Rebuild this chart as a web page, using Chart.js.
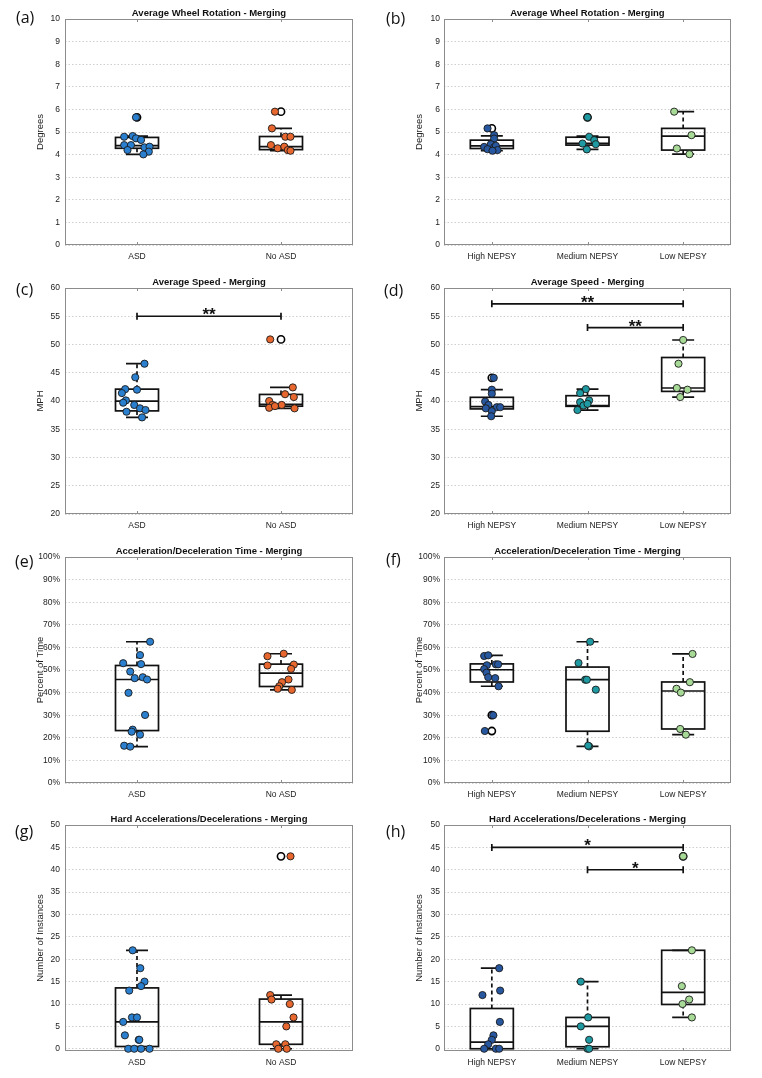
<!DOCTYPE html>
<html><head><meta charset="utf-8">
<script src="https://cdn.jsdelivr.net/npm/chart.js@4.4.1/dist/chart.umd.min.js"></script>
<style>
html,body{margin:0;padding:0;background:#fff;}
body{width:762px;height:1078px;position:relative;overflow:hidden;}
.p{position:absolute;width:381px;height:270px;}
canvas{display:block;}
</style></head><body>
<div class="p" id="wa"><canvas id="ca" width="381" height="270"></canvas></div>
<div class="p" id="wb"><canvas id="cb" width="381" height="270"></canvas></div>
<div class="p" id="wc"><canvas id="cc" width="381" height="270"></canvas></div>
<div class="p" id="wd"><canvas id="cd" width="381" height="270"></canvas></div>
<div class="p" id="we"><canvas id="ce" width="381" height="270"></canvas></div>
<div class="p" id="wf"><canvas id="cf" width="381" height="270"></canvas></div>
<div class="p" id="wg"><canvas id="cg" width="381" height="270"></canvas></div>
<div class="p" id="wh"><canvas id="ch" width="381" height="270"></canvas></div>
<script>
// ---------------- DATA ----------------
const groupsASD = ['ASD', 'No ASD'];
const groupsNEPSY = ['High NEPSY', 'Medium NEPSY', 'Low NEPSY'];
const colorsASD = ['#2a7fcf', '#e8672e'];
const colorsNEPSY = ['#27579f', '#1f9aa2', '#a7da96'];

const ticksWheel = [0, 1, 2, 3, 4, 5, 6, 7, 8, 9, 10];
const ticksSpeed = [20, 25, 30, 35, 40, 45, 50, 55, 60];
const ticksTime = [0, 10, 20, 30, 40, 50, 60, 70, 80, 90, 100];
const ticksHard = [0, 5, 10, 15, 20, 25, 30, 35, 40, 45, 50];

// box stats: [lower whisker, Q1, median, Q3, upper whisker]
// (a) Average wheel rotation by ASD
const aValues = [[4.79, 4.82, 4.72, 4.65, 4.42, 4.42, 4.20, 5.65, 4.32, 4.35, 4.13, 4.01],
                 [5.90, 5.16, 4.79, 4.79, 4.42, 4.28, 4.35, 4.20, 4.17]];
const aJitter = [[-0.089, -0.030, -0.007, 0.028, -0.089, -0.042, -0.066, -0.007, 0.052, 0.087, 0.082, 0.044],
                 [-0.042, -0.063, 0.030, 0.066, -0.070, -0.023, 0.023, 0.047, 0.066]];
const aBox = [[4.01, 4.28, 4.40, 4.76, 4.82], [4.17, 4.22, 4.35, 4.80, 5.16]];
const aOutliers = [[5.65], [5.90]];
const aSig = [];

// (b) Average wheel rotation by NEPSY
const bValues = [[5.16, 4.86, 4.71, 4.46, 4.34, 4.32, 4.39, 4.20, 4.24, 4.17],
                 [5.65, 4.79, 4.64, 4.49, 4.46, 4.23],
                 [5.90, 4.86, 4.27, 4.02]];
const bJitter = [[-0.045, 0.024, 0.024, -0.010, -0.080, 0.024, 0.042, 0.059, -0.045, 0.007],
                 [0.000, 0.017, 0.070, -0.052, 0.087, -0.007],
                 [-0.094, 0.087, -0.066, 0.066]];
const bBox = [[4.17, 4.27, 4.39, 4.64, 4.83], [4.23, 4.42, 4.50, 4.77, 4.82], [4.02, 4.20, 4.82, 5.16, 5.90]];
const bOutliers = [[5.16], [5.65], []];
const bSig = [];

// (c) Average speed by ASD
const cValues = [[46.6, 44.2, 42.1, 42.0, 41.4, 40.1, 39.7, 39.3, 38.7, 38.4, 38.1, 37.1],
                 [50.9, 42.4, 41.2, 40.7, 40.0, 39.3, 39.3, 38.8, 38.7, 39.1]];
const cJitter = [[0.052, -0.012, -0.082, 0.000, -0.105, -0.077, -0.096, -0.019, 0.021, 0.059, -0.073, 0.035],
                 [-0.075, 0.082, 0.028, 0.089, -0.082, -0.059, 0.005, -0.082, 0.094, -0.042]];
const cBox = [[37.1, 38.25, 39.97, 42.1, 46.6], [38.7, 39.08, 39.4, 41.16, 42.4]];
const cOutliers = [[], [50.9]];
const cSig = [[1, 2, 55, '**']];

// (d) Average speed by NEPSY
const dValues = [[44.1, 42.0, 41.3, 39.9, 39.3, 38.9, 38.9, 38.7, 38.2, 37.3],
                 [42.1, 41.4, 40.1, 39.8, 39.2, 38.4, 39.5],
                 [50.8, 46.6, 42.3, 42.0, 40.7]];
const dJitter = [[0.020, 0.000, 0.000, -0.070, -0.035, 0.052, 0.087, -0.063, 0.000, -0.007],
                 [-0.017, -0.077, 0.017, -0.077, -0.042, -0.105, 0.000],
                 [0.000, -0.049, -0.066, 0.045, -0.031]];
const dBox = [[37.3, 38.6, 39.0, 40.65, 42.0], [38.4, 39.06, 39.2, 40.94, 42.1], [40.7, 41.7, 42.3, 47.7, 50.8]];
const dOutliers = [[44.1], [], []];
const dSig = [[1, 3, 57.2, '**'], [2, 3, 53, '**']];

// (e) Acceleration/deceleration time (%) by ASD
const eValues = [[62.5, 56.6, 53.0, 52.6, 49.3, 46.4, 46.8, 45.8, 39.9, 30.1, 23.6, 22.7, 21.4, 16.5, 16.1],
                 [57.2, 56.1, 52.0, 52.4, 50.5, 45.8, 44.6, 42.8, 41.7, 41.2]];
const eJitter = [[0.091, 0.021, -0.096, 0.028, -0.047, -0.016, 0.040, 0.070, -0.059, 0.056, -0.030, -0.037, 0.021, -0.089, -0.047],
                 [0.019, -0.094, -0.094, 0.089, 0.070, 0.052, 0.007, -0.012, -0.023, 0.075]];
const eBox = [[16.1, 23.2, 45.8, 52.0, 62.5], [41.2, 42.7, 48.6, 52.6, 57.2]];
const eOutliers = [[], []];
const eSig = [];

// (f) Acceleration/deceleration time (%) by NEPSY
const fValues = [[56.2, 56.5, 52.1, 52.5, 52.5, 50.4, 48.8, 46.8, 46.4, 42.8, 30.0, 23.0],
                 [62.5, 53.1, 45.7, 45.7, 41.3, 16.2, 16.5],
                 [57.1, 44.6, 41.7, 40.0, 23.9, 21.4]];
const fJitter = [[-0.080, -0.038, -0.052, 0.042, 0.066, -0.080, -0.056, -0.038, 0.035, 0.070, 0.014, -0.073],
                 [0.028, -0.094, -0.024, -0.007, 0.087, 0.017, 0.007],
                 [0.098, 0.070, -0.070, -0.024, -0.031, 0.028]];
const fBox = [[42.8, 44.7, 50.1, 52.7, 56.5], [16.2, 22.9, 45.7, 51.3, 62.5], [21.4, 23.9, 40.7, 44.7, 57.1]];
const fOutliers = [[30.0, 23.0], [], []];
const fSig = [];

// (g) Hard accelerations/decelerations by ASD
const gValues = [[22, 18, 15, 14, 13, 7, 7, 6, 3, 2, 2, 0, 0, 0, 0],
                 [43, 12, 11, 10, 7, 5, 1, 1, 0, 0]];
const gJitter = [[-0.030, 0.023, 0.052, 0.028, -0.054, -0.035, 0.000, -0.096, -0.084, 0.012, 0.016, -0.061, -0.019, 0.028, 0.087],
                 [0.066, -0.075, -0.066, 0.061, 0.087, 0.037, -0.033, 0.030, -0.019, 0.040]];
const gBox = [[0, 0.5, 6, 13.6, 22], [0, 1, 6, 11.1, 12]];
const gOutliers = [[], [43]];
const gSig = [];

// (h) Hard accelerations/decelerations by NEPSY
const hValues = [[18, 13, 12, 6, 3, 2, 1, 0, 0, 0],
                 [15, 7, 5, 2, 0, 0],
                 [43, 22, 14, 11, 10, 7]];
const hJitter = [[0.077, 0.087, -0.098, 0.084, 0.017, 0.000, -0.038, -0.080, 0.042, 0.077],
                 [-0.070, 0.007, -0.070, 0.017, 0.000, 0.017],
                 [0.000, 0.091, -0.014, 0.063, -0.007, 0.091]];
const hBox = [[0, 0, 1.5, 9, 18], [0, 0.45, 5, 7, 15], [7, 9.9, 12.6, 22, 22]];
const hOutliers = [[], [], [43]];
const hSig = [[1, 3, 45, '*'], [2, 3, 40, '*']];

// ---------------- PANELS ----------------
const pct = v => v + '%';
const num = v => String(v);
const panels = [
  {id:'a', label:'(a)', title:'Average Wheel Rotation - Merging', yTitle:'Degrees', groups:groupsASD, colors:colorsASD, values:aValues, jitter:aJitter, box:aBox, outliers:aOutliers, sig:aSig, ticks:ticksWheel, min:0, max:10, fmt:num, col:0, row:0, lab:[16,18]},
  {id:'b', label:'(b)', title:'Average Wheel Rotation - Merging', yTitle:'Degrees', groups:groupsNEPSY, colors:colorsNEPSY, values:bValues, jitter:bJitter, box:bBox, outliers:bOutliers, sig:bSig, ticks:ticksWheel, min:0, max:10, fmt:num, col:1, row:0, lab:[5,19]},
  {id:'c', label:'(c)', title:'Average Speed - Merging', yTitle:'MPH', groups:groupsASD, colors:colorsASD, values:cValues, jitter:cJitter, box:cBox, outliers:cOutliers, sig:cSig, ticks:ticksSpeed, min:20, max:60, fmt:num, col:0, row:1, lab:[16,21]},
  {id:'d', label:'(d)', title:'Average Speed - Merging', yTitle:'MPH', groups:groupsNEPSY, colors:colorsNEPSY, values:dValues, jitter:dJitter, box:dBox, outliers:dOutliers, sig:dSig, ticks:ticksSpeed, min:20, max:60, fmt:num, col:1, row:1, lab:[3,22]},
  {id:'e', label:'(e)', title:'Acceleration/Deceleration Time - Merging', yTitle:'Percent of Time', groups:groupsASD, colors:colorsASD, values:eValues, jitter:eJitter, box:eBox, outliers:eOutliers, sig:eSig, ticks:ticksTime, min:0, max:100, fmt:pct, col:0, row:2, lab:[15,24]},
  {id:'f', label:'(f)', title:'Acceleration/Deceleration Time - Merging', yTitle:'Percent of Time', groups:groupsNEPSY, colors:colorsNEPSY, values:fValues, jitter:fJitter, box:fBox, outliers:fOutliers, sig:fSig, ticks:ticksTime, min:0, max:100, fmt:pct, col:1, row:2, lab:[5,22]},
  {id:'g', label:'(g)', title:'Hard Accelerations/Decelerations - Merging', yTitle:'Number of Instances', groups:groupsASD, colors:colorsASD, values:gValues, jitter:gJitter, box:gBox, outliers:gOutliers, sig:gSig, ticks:ticksHard, min:-0.5, max:50, fmt:num, col:0, row:3, lab:[15,26]},
  {id:'h', label:'(h)', title:'Hard Accelerations/Decelerations - Merging', yTitle:'Number of Instances', groups:groupsNEPSY, colors:colorsNEPSY, values:hValues, jitter:hJitter, box:hBox, outliers:hOutliers, sig:hSig, ticks:ticksHard, min:-0.5, max:50, fmt:num, col:1, row:3, lab:[5,26]}
];

// ---------------- LAYOUT ----------------
const colLeft = [0, 381];
const rowTop = [0, 269, 538, 806];
const yAxisW = [65, 63];
const padRight = [28, 31];
const yTitlePad = [35, 33];
const yTickPad = [5, 4];
const BOX_HALF = 21.5;
const CAP_HALF = 11;
const FONT = '"Liberation Sans", Arial, Helvetica, sans-serif';

function panelPlugin(p) {
  return {
    id: 'panel_' + p.id,
    beforeDatasetsDraw(chart) {
      const ctx = chart.ctx, xs = chart.scales.x, ys = chart.scales.y, ca = chart.chartArea;
      ctx.save();
      ctx.strokeStyle = '#8c8c8c';
      ctx.lineWidth = 1;
      ctx.setLineDash([]);
      ctx.strokeRect(Math.round(ca.left) + 0.5, Math.round(ca.top) + 0.5, Math.round(ca.right - ca.left) - 1, Math.round(ca.bottom - ca.top) - 1);
      p.groups.forEach((g, gi) => {
        const x = Math.round(xs.getPixelForValue(gi + 1)) + 0.5;
        ctx.beginPath();
        ctx.moveTo(x, ca.top); ctx.lineTo(x, ca.top + 3);
        ctx.moveTo(x, ca.bottom); ctx.lineTo(x, ca.bottom - 3);
        ctx.stroke();
      });
      ctx.strokeStyle = '#111';
      ctx.lineWidth = 1.7;
      p.box.forEach((s, gi) => {
        const cx = xs.getPixelForValue(gi + 1);
        const lo = ys.getPixelForValue(s[0]), q1 = ys.getPixelForValue(s[1]), md = ys.getPixelForValue(s[2]),
              q3 = ys.getPixelForValue(s[3]), hi = ys.getPixelForValue(s[4]);
        ctx.setLineDash([4, 3]);
        ctx.beginPath();
        if (Math.abs(hi - q3) > 1) { ctx.moveTo(cx, q3); ctx.lineTo(cx, hi); }
        if (Math.abs(lo - q1) > 1) { ctx.moveTo(cx, q1); ctx.lineTo(cx, lo); }
        ctx.stroke();
        ctx.setLineDash([]);
        ctx.beginPath();
        ctx.moveTo(cx - CAP_HALF, hi); ctx.lineTo(cx + CAP_HALF, hi);
        ctx.moveTo(cx - CAP_HALF, lo); ctx.lineTo(cx + CAP_HALF, lo);
        ctx.stroke();
        ctx.strokeRect(cx - BOX_HALF, q3, BOX_HALF * 2, q1 - q3);
        ctx.beginPath();
        ctx.moveTo(cx - BOX_HALF, md); ctx.lineTo(cx + BOX_HALF, md);
        ctx.stroke();
      });
      ctx.restore();
    },
    afterDatasetsDraw(chart) {
      const ctx = chart.ctx, xs = chart.scales.x, ys = chart.scales.y;
      ctx.save();
      ctx.strokeStyle = '#111';
      ctx.fillStyle = '#111';
      ctx.lineWidth = 1.7;
      p.sig.forEach(([a, b, y, txt]) => {
        const x1 = xs.getPixelForValue(a), x2 = xs.getPixelForValue(b), py = ys.getPixelForValue(y);
        ctx.beginPath();
        ctx.moveTo(x1, py); ctx.lineTo(x2, py);
        ctx.moveTo(x1, py - 3.5); ctx.lineTo(x1, py + 3.5);
        ctx.moveTo(x2, py - 3.5); ctx.lineTo(x2, py + 3.5);
        ctx.stroke();
        ctx.font = 'bold 17px ' + FONT;
        ctx.textAlign = 'center';
        ctx.textBaseline = 'alphabetic';
        ctx.fillText(txt, (x1 + x2) / 2, py + 4);
      });
      ctx.restore();
    },
    afterDraw(chart) {
      const ctx = chart.ctx, ca = chart.chartArea;
      ctx.save();
      ctx.fillStyle = '#111';
      ctx.font = 'bold 9.5px ' + FONT;
      ctx.textAlign = 'center';
      ctx.textBaseline = 'middle';
      ctx.fillText(p.title, (ca.left + ca.right) / 2, ca.top - 6);
      ctx.font = '16px "Open Sans", "DejaVu Sans", sans-serif';
      ctx.textAlign = 'left';
      ctx.fillText(p.label, p.lab[0], p.lab[1]);
      ctx.restore();
    }
  };
}

function build(p) {
  const wrap = document.getElementById('w' + p.id);
  wrap.style.left = colLeft[p.col] + 'px';
  wrap.style.top = rowTop[p.row] + 'px';
  const n = p.groups.length;
  const datasets = [];
  p.values.forEach((vals, gi) => {
    datasets.push({
      type: 'scatter',
      order: 1,
      clip: false,
      data: vals.map((v, k) => ({x: gi + 1 + p.jitter[gi][k], y: v})),
      backgroundColor: p.colors[gi],
      borderColor: '#1b1b1b',
      borderWidth: 0.9,
      pointRadius: 3.6
    });
  });
  const outPts = [];
  p.outliers.forEach((arr, gi) => arr.forEach(v => outPts.push({x: gi + 1, y: v})));
  datasets.push({
    type: 'scatter',
    order: 5,
    clip: false,
    data: outPts,
    backgroundColor: '#ffffff',
    borderColor: '#000000',
    borderWidth: 1.6,
    pointRadius: 3.6
  });
  new Chart(document.getElementById('c' + p.id), {
    type: 'scatter',
    data: {datasets},
    options: {
      responsive: false,
      animation: false,
      devicePixelRatio: 1,
      layout: {padding: {left: 0, right: padRight[p.col], top: 19, bottom: 0}},
      plugins: {legend: {display: false}, tooltip: {enabled: false}, title: {display: false}},
      scales: {
        x: {
          type: 'linear', position: 'bottom', min: 0.5, max: n + 0.5,
          afterBuildTicks: s => { s.ticks = p.groups.map((g, i) => ({value: i + 1})); },
          afterFit: s => { s.height = 25; },
          grid: {display: false, drawTicks: false},
          border: {display: false},
          ticks: {autoSkip: false, maxRotation: 0, padding: 7, color: '#222',
                  font: {family: FONT, size: 8.5},
                  callback: v => p.groups[Math.round(v) - 1]}
        },
        y: {
          type: 'linear', position: 'left', min: p.min, max: p.max,
          afterBuildTicks: s => { s.ticks = p.ticks.map(v => ({value: v})); },
          afterFit: s => { s.width = yAxisW[p.col]; },
          grid: {color: '#cfcfcf', lineWidth: 1, drawTicks: false},
          border: {display: false, dash: [1.5, 2]},
          ticks: {padding: yTickPad[p.col], color: '#222', font: {family: FONT, size: 8.5},
                  callback: v => p.fmt(v)},
          title: {display: true, text: p.yTitle, color: '#222', font: {family: FONT, size: 9.5},
                  padding: {top: yTitlePad[p.col], bottom: 0}}
        }
      }
    },
    plugins: [panelPlugin(p)]
  });
}
panels.forEach(build);
</script>
</body></html>
